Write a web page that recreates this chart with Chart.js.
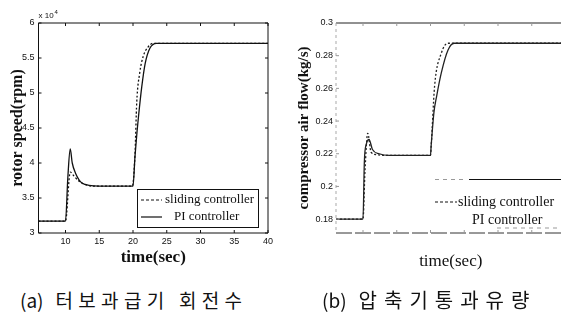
<!DOCTYPE html>
<html>
<head>
<meta charset="utf-8">
<script src="https://cdn.jsdelivr.net/npm/chart.js@4.4.0/dist/chart.umd.min.js"></script>
<style>
  html, body { margin: 0; padding: 0; background: #fff; overflow: hidden; width: 561px; height: 320px; }
  .wrap { position: absolute; top: 0; height: 275px; }
  #wrapA { left: 0; width: 290px; }
  #wrapB { left: 280px; width: 300px; }
  .cap { position: absolute; top: 289px; font-family: "Noto Sans CJK KR", sans-serif; font-size: 19px;
         line-height: 22px; color: #111; white-space: nowrap; }
  .cap span { margin-left: 12px; }
</style>
</head>
<body>
<div class="wrap" id="wrapA"><canvas id="chartA"></canvas></div>
<div class="wrap" id="wrapB"><canvas id="chartB"></canvas></div>
<div class="cap" style="left:20px">(a)<span style="letter-spacing:5.3px">터보과급기 회전수</span></div>
<div class="cap" style="left:322px">(b)<span style="letter-spacing:7px; font-size:20px">압축기통과유량</span></div>

<script>
// --- Data ---

// (a) rotor speed, x10^4 rpm
const tPiA    = [6, 10, 10.35, 10.7, 11.0, 11.5, 12.0, 12.5, 13.5, 15, 20, 20.3, 20.6, 20.8, 21.3, 21.8, 22.5, 23.5, 40];
const speedPi = [3.17, 3.17, 3.80, 4.20, 4.00, 3.85, 3.76, 3.71, 3.68, 3.67, 3.67, 4.10, 4.45, 4.65, 5.09, 5.42, 5.64, 5.71, 5.71];
const tSmA    = [6, 10, 10.7, 11.2, 12.0, 13.0, 14.0, 19.9, 20.3, 20.55, 21.0, 21.5, 22.25, 23.0, 40];
const speedSm = [3.17, 3.17, 3.87, 3.82, 3.74, 3.69, 3.67, 3.67, 4.14, 4.86, 5.29, 5.52, 5.66, 5.71, 5.71];

// (b) compressor air flow, kg/s
const tPiB   = [6, 10, 10.2, 10.5, 10.9, 11.4, 12.4, 13.9, 20, 20.1, 20.5, 20.9, 21.6, 22.6, 23.5, 40];
const flowPi = [0.18, 0.18, 0.215, 0.226, 0.2287, 0.2226, 0.22, 0.219, 0.219, 0.225, 0.245, 0.255, 0.2695, 0.2835, 0.2876, 0.2876];
const tSmB   = [6, 10, 10.3, 10.7, 11.2, 12.0, 13.0, 20, 20.1, 20.6, 21.6, 22.6, 40];
const flowSm = [0.18, 0.18, 0.21, 0.2325, 0.2209, 0.2195, 0.219, 0.219, 0.2245, 0.261, 0.2815, 0.2876, 0.2876];

const xTicks  = [10, 15, 20, 25, 30, 35, 40];
const yTicksA = [3, 3.5, 4, 4.5, 5, 5.5, 6];
const yTicksB = [0.18, 0.2, 0.22, 0.24, 0.26, 0.28, 0.3];

const seriesNames = ['sliding controller', 'PI controller'];

const SERIF = '"Liberation Serif", "Times New Roman", serif';
const SANS = '"Liberation Sans", Arial, sans-serif';

// --- Helpers ---

function toPoints(xs, ys) {
  return xs.map((x, i) => ({ x, y: ys[i] }));
}

function fixTicks(values) {
  return (scale) => { scale.ticks = values.map(v => ({ value: v })); };
}

// MATLAB-style box with inward tick marks
const framePlugin = {
  id: 'frame',
  afterDatasetsDraw(chart, args, o) {
    const { ctx, chartArea: a, scales } = chart;
    ctx.save();
    ctx.lineWidth = 1;
    const sides = {
      top: [a.left, a.top, a.right, a.top],
      bottom: [a.left, a.bottom, a.right, a.bottom],
      left: [a.left, a.top, a.left, a.bottom],
      right: [a.right, a.top, a.right, a.bottom],
    };
    Object.entries(o.sides).forEach(([name, st]) => {
      const [x0, y0, x1, y1] = sides[name];
      ctx.strokeStyle = st.color;
      ctx.setLineDash(st.dash || []);
      ctx.beginPath();
      ctx.moveTo(x0, y0);
      ctx.lineTo(x1, y1);
      ctx.stroke();
    });
    ctx.setLineDash([]);
    ctx.strokeStyle = o.tickColor;
    const len = 3;
    scales.x.ticks.forEach(t => {
      const px = scales.x.getPixelForValue(t.value);
      ctx.beginPath();
      ctx.moveTo(px, a.bottom); ctx.lineTo(px, a.bottom - len);
      ctx.moveTo(px, a.top); ctx.lineTo(px, a.top + len);
      ctx.stroke();
    });
    scales.y.ticks.forEach(t => {
      const py = scales.y.getPixelForValue(t.value);
      ctx.beginPath();
      ctx.moveTo(a.left, py); ctx.lineTo(a.left + len, py);
      ctx.moveTo(a.right, py); ctx.lineTo(a.right - len, py);
      ctx.stroke();
    });
    if (o.exponent) {
      ctx.fillStyle = '#111';
      ctx.font = '8px ' + SANS;
      ctx.textBaseline = 'alphabetic';
      ctx.fillText('x 10', a.left, a.top - 5);
      ctx.font = '6px ' + SANS;
      ctx.fillText('4', a.left + 16, a.top - 9);
    }
    ctx.restore();
  },
};

// legend drawn inside the axes like the original
const boxLegendPlugin = {
  id: 'boxLegend',
  afterDraw(chart, args, o) {
    const { ctx, chartArea: a } = chart;
    const x0 = a.left + o.dx;
    const y0 = a.top + o.dy;
    ctx.save();
    ctx.lineWidth = 1;
    ctx.strokeStyle = '#111';
    if (o.fullBox) {
      ctx.fillStyle = '#fff';
      ctx.fillRect(x0, y0, o.w, o.h);
      ctx.strokeRect(x0 + 0.5, y0 + 0.5, o.w, o.h);
    } else {
      ctx.beginPath();
      ctx.moveTo(x0 + 34, y0 + 0.5); ctx.lineTo(a.right + 20, y0 + 0.5);
      ctx.stroke();
      ctx.strokeStyle = '#999';
      ctx.setLineDash([4, 4]);
      ctx.beginPath();
      ctx.moveTo(x0, y0 + 0.5); ctx.lineTo(x0 + 30, y0 + 0.5);
      ctx.moveTo(x0 + 62, y0 + o.h); ctx.lineTo(a.right + 20, y0 + o.h);
      ctx.stroke();
      ctx.setLineDash([]);
    }
    ctx.font = o.fontSize + 'px ' + SERIF;
    ctx.fillStyle = '#111';
    ctx.textBaseline = 'middle';
    chart.data.datasets.forEach((ds, i) => {
      const row = o.rows[i];
      if (row.sample) {
        ctx.strokeStyle = '#111';
        ctx.lineWidth = 1.2;
        ctx.setLineDash(ds.borderDash ? [3, 2] : []);
        ctx.beginPath();
        ctx.moveTo(x0 + o.sx0, y0 + row.y);
        ctx.lineTo(x0 + o.sx1, y0 + row.y);
        ctx.stroke();
        ctx.setLineDash([]);
      }
      ctx.fillText(ds.label, x0 + row.tx, y0 + row.y);
    });
    ctx.restore();
  },
};

function makeChart(id, cfg) {
  const datasets = [
    {
      label: seriesNames[0],
      data: cfg.sm,
      borderColor: cfg.lineColor,
      borderWidth: 1.3,
      borderDash: [2, 2],
      pointRadius: 0,
      cubicInterpolationMode: 'monotone',
    },
    {
      label: seriesNames[1],
      data: cfg.pi,
      borderColor: cfg.lineColor,
      borderWidth: 1.3,
      pointRadius: 0,
      cubicInterpolationMode: 'monotone',
    },
  ];

  return new Chart(document.getElementById(id), {
    type: 'line',
    data: { datasets },
    options: {
      responsive: true,
      maintainAspectRatio: false,
      animation: false,
      layout: { padding: { top: 23, right: cfg.padRight, left: 0, bottom: 0 } },
      plugins: {
        legend: { display: false },
        tooltip: { enabled: false },
        frame: cfg.frame,
        boxLegend: cfg.legend,
      },
      scales: {
        x: {
          type: 'linear',
          min: 6,
          max: 40,
          afterBuildTicks: fixTicks(xTicks),
          afterFit: (s) => { s.height = 42; },
          grid: { display: false, drawTicks: false },
          border: { display: false },
          ticks: {
            display: cfg.xLabels,
            padding: 3,
            maxRotation: 0,
            font: { family: SANS, size: 9 },
            color: '#111',
          },
          title: {
            display: true,
            text: 'time(sec)',
            font: { family: SERIF, size: 17, weight: cfg.xTitleWeight },
            color: '#111',
            padding: { top: 0, bottom: cfg.xTitlePad },
          },
        },
        y: {
          min: cfg.yMin,
          max: cfg.yMax,
          afterBuildTicks: fixTicks(cfg.yTicks),
          afterFit: (s) => { s.width = cfg.yWidth; },
          grid: { display: false, drawTicks: false },
          border: { display: false },
          ticks: {
            padding: cfg.yTickPad,
            font: { family: SANS, size: 9 },
            color: '#111',
            callback: (v) => String(v),
          },
          title: {
            display: true,
            text: cfg.yTitle,
            font: { family: SERIF, size: cfg.yTitleSize, weight: 'bold' },
            color: '#111',
            padding: { top: cfg.yTitlePad, bottom: 0 },
          },
        },
      },
    },
    plugins: [framePlugin, boxLegendPlugin],
  });
}

const solid = { color: '#111' };

makeChart('chartA', {
  sm: toPoints(tSmA, speedSm),
  pi: toPoints(tPiA, speedPi),
  lineColor: '#111',
  padRight: 22,
  yWidth: 38.5,
  yMin: 3,
  yMax: 6,
  yTicks: yTicksA,
  yTickPad: 4,
  yTitle: 'rotor speed(rpm)',
  yTitleSize: 16,
  yTitlePad: 8,
  xLabels: true,
  xTitleWeight: 'bold',
  xTitlePad: 7,
  frame: { sides: { top: solid, bottom: solid, left: solid, right: solid }, tickColor: '#111', exponent: true },
  legend: {
    fullBox: true, dx: 98.5, dy: 166, w: 121, h: 38, fontSize: 13, sx0: 4, sx1: 25,
    rows: [{ y: 11, tx: 28, sample: true }, { y: 28, tx: 37, sample: true }],
  },
});

makeChart('chartB', {
  sm: toPoints(tSmB, flowSm),
  pi: toPoints(tPiB, flowPi),
  lineColor: '#222',
  padRight: 14.5,
  yWidth: 56,
  yMin: 0.1715,
  yMax: 0.3,
  yTicks: yTicksB,
  yTickPad: 3,
  yTitle: 'compressor air flow(kg/s)',
  yTitleSize: 15,
  yTitlePad: 15,
  xLabels: false,
  xTitleWeight: 'normal',
  xTitlePad: 3,
  frame: {
    sides: {
      top: { color: '#222' },
      bottom: { color: '#333', dash: [16, 3] },
      left: { color: '#aaa', dash: [3, 3] },
    },
    tickColor: '#999',
    exponent: false,
  },
  legend: {
    fullBox: false, dx: 99, dy: 156, w: 140, h: 49, fontSize: 14, sx0: 0, sx1: 22,
    rows: [{ y: 23, tx: 23, sample: true }, { y: 41, tx: 37, sample: false }],
  },
});
</script>
</body>
</html>
